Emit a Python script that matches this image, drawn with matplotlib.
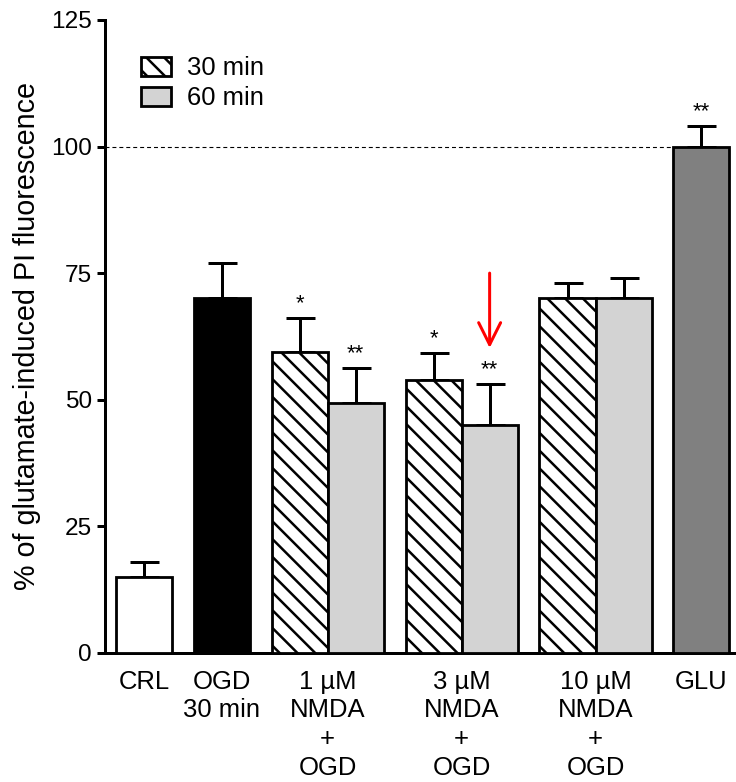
import matplotlib
matplotlib.use("Agg")
import matplotlib.pyplot as plt
from matplotlib.patches import Patch

DPI = 160
def pt(px):
    return px * 72.0 / DPI

plt.rcParams['font.family'] = ['Liberation Sans', 'DejaVu Sans']
plt.rcParams['hatch.linewidth'] = pt(2.5)

# ---- data ----
bar_names = ["CRL", "OGD", "1uM_30", "1uM_60", "3uM_30", "3uM_60", "10uM_30", "10uM_60", "GLU"]
values = [15, 70, 59.4, 49.4, 53.9, 45.0, 70.0, 70.0, 100]
errors = [3, 7, 6.7, 6.9, 5.3, 8.0, 3.0, 4.0, 4.0]
stars = ["", "", "*", "**", "*", "**", "", "", "**"]
group_sizes = [1, 1, 2, 2, 2, 1]
group_labels = ["CRL", "OGD\n30 min", "1 µM\nNMDA\n+\nOGD", "3 µM\nNMDA\n+\nOGD",
                "10 µM\nNMDA\n+\nOGD", "GLU"]
legend_labels = ["30 min", "60 min"]
yticks = [0, 25, 50, 75, 100, 125]
ylabel = "% of glutamate-induced PI fluorescence"

# ---- styles ----
HATCH = "\\\\\\"
faces = ["white", "black", "white", "#d3d3d3", "white", "#d3d3d3", "white", "#d3d3d3", "#808080"]
hatches = [None, None, HATCH, None, HATCH, None, HATCH, None, None]
arrow_bar = 5

# ---- layout ----
width = 1.0
gap = 0.39
positions = []
centers = []
x = 0.0
for gs in group_sizes:
    grp = []
    for i in range(gs):
        grp.append(x)
        x += width
    positions.extend(grp)
    centers.append(sum(grp) / len(grp))
    x += gap

fig = plt.figure(figsize=(736 / DPI, 782 / DPI), dpi=DPI)
ax = fig.add_axes([105 / 736, 1 - 652.7 / 782, 630 / 736, 632.7 / 782])

FS_TICK = pt(24.4)
FS_X = pt(25.6)
FS_Y = pt(28.8)
FS_STAR = pt(22)

ax.hlines(100, -0.7, positions[-1] - width / 2, colors="black",
          linestyles=(0, (3.6, 2.7)), linewidth=pt(1.1), zorder=1)

for i in range(len(values)):
    ax.bar(positions[i], values[i], width=width, color=faces[i], edgecolor="black",
           linewidth=pt(2.8), hatch=hatches[i], zorder=3)
    ax.errorbar(positions[i], values[i], yerr=[[0], [errors[i]]], fmt="none",
                ecolor="black", elinewidth=pt(3), capsize=pt(14.5), capthick=pt(3), zorder=2)
    if stars[i]:
        ax.annotate(stars[i], xy=(positions[i], values[i] + errors[i]),
                    xytext=(0, pt(9)), textcoords="offset points",
                    ha="center", va="baseline", fontsize=FS_STAR)

xa = positions[arrow_bar]
ax.annotate("", xy=(xa, 60.2), xytext=(xa, 75.0),
            arrowprops=dict(arrowstyle="->,head_length=0.4,head_width=0.2",
                            color="red", lw=pt(3), mutation_scale=pt(55),
                            shrinkA=0, shrinkB=0))

ax.set_xlim(-0.696, 10.55)
ax.set_ylim(0, 125)
ax.set_yticks(yticks)
ax.set_yticklabels([str(t) for t in yticks], fontsize=FS_TICK)
ax.set_xticks(centers)
ax.set_xticklabels(group_labels, fontsize=FS_X, linespacing=1.25)
ax.tick_params(axis="x", length=0, pad=pt(17))
ax.tick_params(axis="y", length=pt(8), width=pt(3), pad=pt(5), direction="out")
for s in ["top", "right"]:
    ax.spines[s].set_visible(False)
for s in ["left", "bottom"]:
    ax.spines[s].set_linewidth(pt(3))
ax.set_ylabel(ylabel, fontsize=FS_Y, labelpad=pt(10))

handles = [Patch(facecolor="white", edgecolor="black", hatch=HATCH, linewidth=pt(2.8)),
           Patch(facecolor="#d3d3d3", edgecolor="black", linewidth=pt(2.8))]
ax.legend(handles, legend_labels, loc="upper left", bbox_to_anchor=(0.057, 0.943),
          frameon=False, fontsize=FS_X, handlelength=30 / 25.6, handleheight=20 / 25.6,
          handletextpad=16 / 25.6, labelspacing=0.25, borderpad=0, borderaxespad=0)

fig.savefig("out.png", dpi=DPI)
